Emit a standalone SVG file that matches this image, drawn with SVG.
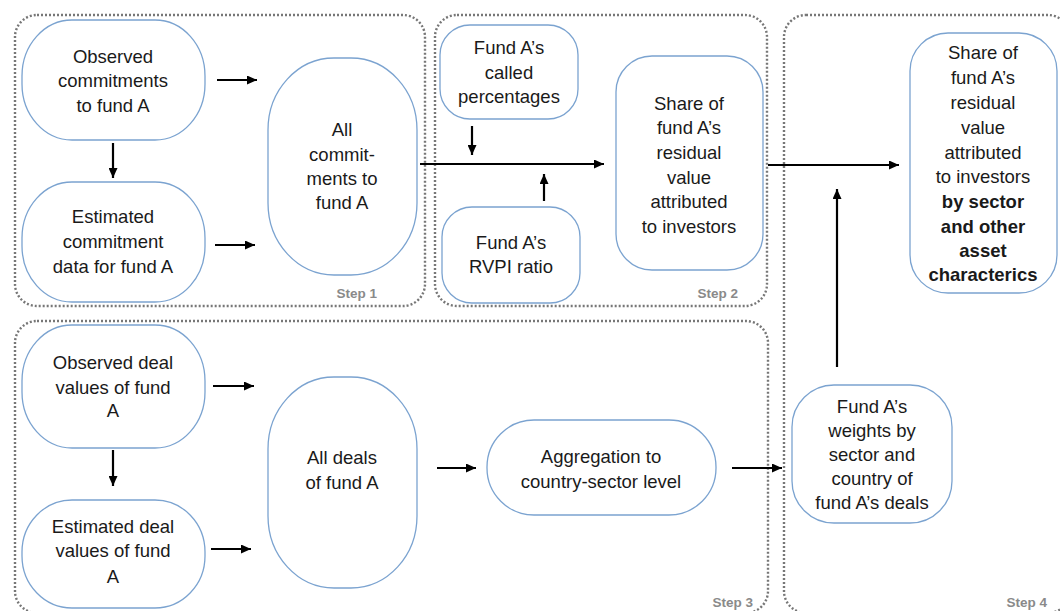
<svg xmlns="http://www.w3.org/2000/svg" width="1060" height="611" viewBox="0 0 1060 611">
  <style>
    .step { fill: none; stroke: #777777; stroke-width: 2.4; stroke-dasharray: 2 2; }
    .node { fill: #ffffff; stroke: #7ba3d0; stroke-width: 1.3; }
    .lbl { font-family: "Liberation Sans", Arial, sans-serif; font-size: 18.5px; fill: #1a1a1a; text-anchor: middle; }
    .b { font-weight: bold; }
    .steplbl { font-family: "Liberation Sans", Arial, sans-serif; font-size: 13.5px; font-weight: bold; fill: #8a8a8a; text-anchor: end; }
    .arrow { stroke: #000; stroke-width: 2.2; fill: none; marker-end: url(#head); }
  </style>
  <defs>
    <marker id="head" markerUnits="userSpaceOnUse" markerWidth="11" markerHeight="9" refX="10" refY="4.5" orient="auto">
      <path d="M0,0 L10,4.5 L0,9 Z" fill="#000"/>
    </marker>
  </defs>
  <rect width="1060" height="611" fill="#ffffff"/>

  <!-- step frames -->
  <g id="frames">
    <rect class="step" x="15" y="15" width="410" height="291" rx="22"/>
    <rect class="step" x="435" y="15" width="332" height="291" rx="22"/>
    <rect class="step" x="15" y="321" width="753" height="292" rx="22"/>
    <rect class="step" x="784" y="15" width="286" height="598" rx="22"/>
    <text class="steplbl" x="377" y="298">Step 1</text>
    <text class="steplbl" x="738" y="298">Step 2</text>
    <text class="steplbl" x="753" y="607">Step 3</text>
    <text class="steplbl" x="1047" y="607">Step 4</text>
  </g>

  <!-- connectors -->
  <g id="connectors">
    <line class="arrow" x1="217" y1="80" x2="257" y2="80"/>
    <line class="arrow" x1="215" y1="245" x2="255" y2="245"/>
    <line class="arrow" x1="113" y1="143" x2="113" y2="178"/>
    <line class="arrow" x1="420" y1="164" x2="604" y2="164"/>
    <line class="arrow" x1="472" y1="126" x2="472" y2="155"/>
    <line class="arrow" x1="544" y1="201" x2="544" y2="174"/>
    <line class="arrow" x1="768" y1="165" x2="899" y2="165"/>
    <line class="arrow" x1="837" y1="367" x2="837" y2="189"/>
    <line class="arrow" x1="113" y1="450" x2="113" y2="486"/>
    <line class="arrow" x1="213" y1="386" x2="254" y2="386"/>
    <line class="arrow" x1="211" y1="549" x2="251" y2="549"/>
    <line class="arrow" x1="437" y1="468" x2="476" y2="468"/>
    <line class="arrow" x1="732" y1="468" x2="782" y2="468"/>
  </g>

  <!-- step 1 -->
  <g id="observed-commitments">
    <rect class="node" x="22" y="20" width="183" height="120" rx="50" ry="56"/>
    <text class="lbl" x="113" y="63">Observed</text>
    <text class="lbl" x="113" y="87">commitments</text>
    <text class="lbl" x="113" y="112">to fund A</text>
  </g>
  <g id="estimated-commitments">
    <rect class="node" x="22" y="182" width="183" height="120" rx="50" ry="56"/>
    <text class="lbl" x="113" y="223">Estimated</text>
    <text class="lbl" x="113" y="248">commitment</text>
    <text class="lbl" x="113" y="273">data for fund A</text>
  </g>
  <g id="all-commitments">
    <rect class="node" x="268" y="58" width="149" height="217" rx="66" ry="72"/>
    <text class="lbl" x="342" y="136">All</text>
    <text class="lbl" x="342" y="161">commit-</text>
    <text class="lbl" x="342" y="185">ments to</text>
    <text class="lbl" x="342" y="209">fund A</text>
  </g>

  <!-- step 2 -->
  <g id="called-percentages">
    <rect class="node" x="440" y="25" width="138" height="94" rx="30"/>
    <text class="lbl" x="509" y="54">Fund A’s</text>
    <text class="lbl" x="509" y="79">called</text>
    <text class="lbl" x="509" y="103">percentages</text>
  </g>
  <g id="rvpi-ratio">
    <rect class="node" x="442" y="207" width="138" height="96" rx="30"/>
    <text class="lbl" x="511" y="249">Fund A’s</text>
    <text class="lbl" x="511" y="273">RVPI ratio</text>
  </g>
  <g id="residual-share">
    <rect class="node" x="616" y="56" width="147" height="214" rx="36"/>
    <text class="lbl" x="689" y="110">Share of</text>
    <text class="lbl" x="689" y="134">fund A’s</text>
    <text class="lbl" x="689" y="159">residual</text>
    <text class="lbl" x="689" y="184">value</text>
    <text class="lbl" x="689" y="208">attributed</text>
    <text class="lbl" x="689" y="233">to investors</text>
  </g>

  <!-- step 3 -->
  <g id="observed-deals">
    <rect class="node" x="22" y="325" width="183" height="123" rx="50" ry="56"/>
    <text class="lbl" x="113" y="369">Observed deal</text>
    <text class="lbl" x="113" y="394">values of fund</text>
    <text class="lbl" x="113" y="417">A</text>
  </g>
  <g id="estimated-deals">
    <rect class="node" x="22" y="500" width="183" height="108" rx="50" ry="52"/>
    <text class="lbl" x="113" y="533">Estimated deal</text>
    <text class="lbl" x="113" y="557">values of fund</text>
    <text class="lbl" x="113" y="583">A</text>
  </g>
  <g id="all-deals">
    <rect class="node" x="268" y="377" width="149" height="211" rx="66" ry="72"/>
    <text class="lbl" x="342" y="464">All deals</text>
    <text class="lbl" x="342" y="489">of fund A</text>
  </g>
  <g id="aggregation">
    <rect class="node" x="487" y="420" width="229" height="95" rx="47"/>
    <text class="lbl" x="601" y="463">Aggregation to</text>
    <text class="lbl" x="601" y="488">country-sector level</text>
  </g>

  <!-- step 4 -->
  <g id="weights">
    <rect class="node" x="792" y="385" width="160" height="138" rx="42"/>
    <text class="lbl" x="872" y="413">Fund A’s</text>
    <text class="lbl" x="872" y="437">weights by</text>
    <text class="lbl" x="872" y="461">sector and</text>
    <text class="lbl" x="872" y="485">country of</text>
    <text class="lbl" x="872" y="509">fund A’s deals</text>
  </g>
  <g id="share-by-sector">
    <rect class="node" x="910" y="33" width="147" height="260" rx="38"/>
    <text class="lbl" x="983" y="59">Share of</text>
    <text class="lbl" x="983" y="84">fund A’s</text>
    <text class="lbl" x="983" y="109">residual</text>
    <text class="lbl" x="983" y="134">value</text>
    <text class="lbl" x="983" y="159">attributed</text>
    <text class="lbl" x="983" y="183">to investors</text>
    <text class="lbl b" x="983" y="208">by sector</text>
    <text class="lbl b" x="983" y="233">and other</text>
    <text class="lbl b" x="983" y="257">asset</text>
    <text class="lbl b" x="983" y="281">characterics</text>
  </g>
</svg>
